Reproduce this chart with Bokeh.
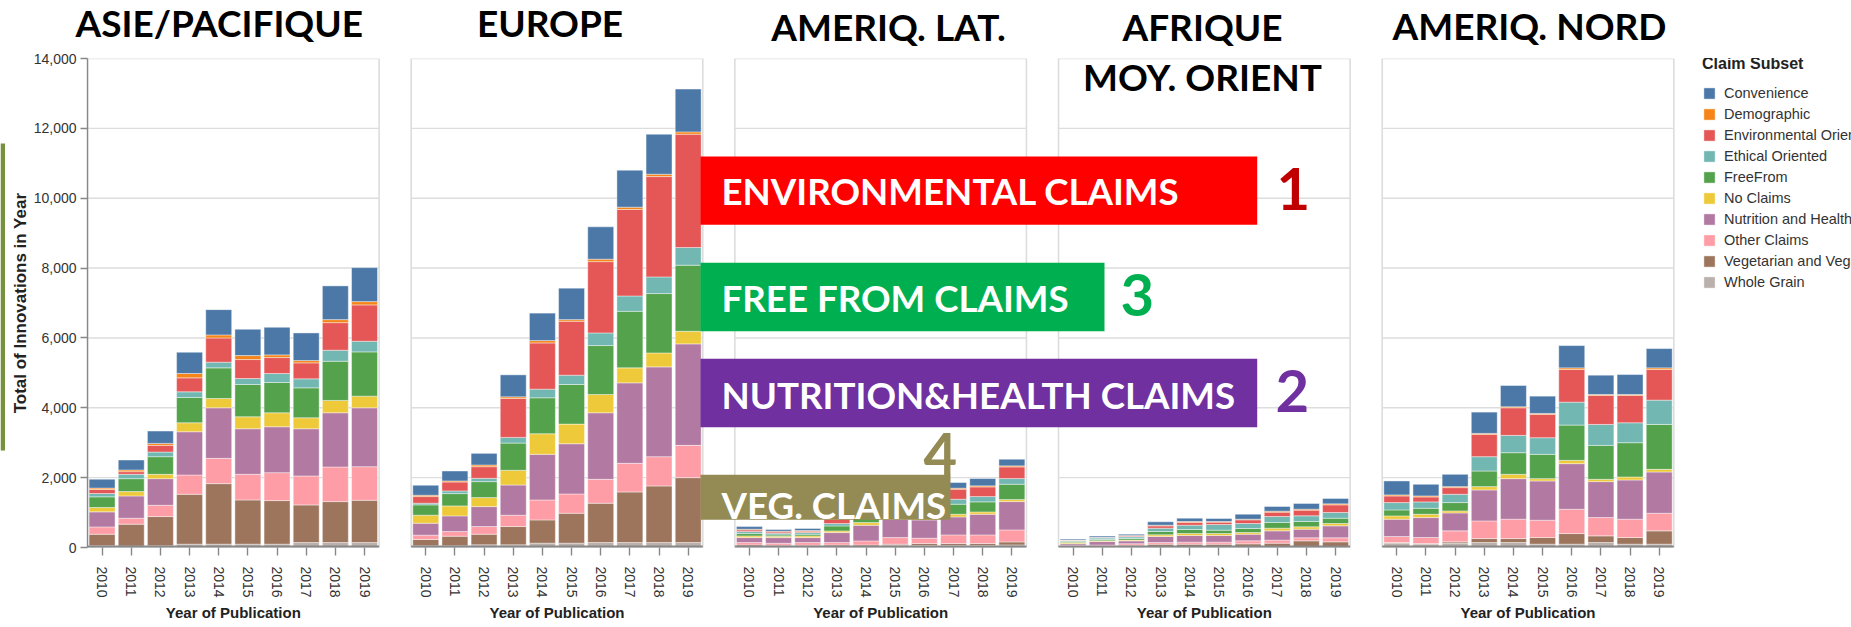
from bokeh.plotting import figure
from bokeh.layouts import column, row
from bokeh.models import (ColumnDataSource, FixedTicker, Label, Legend, LegendItem,
                          Range1d, NumeralTickFormatter)
from bokeh.embed import file_html
from bokeh.resources import INLINE

# ---------------- data ----------------
REGIONS = ["ASIE/PACIFIQUE", "EUROPE", "AMERIQ. LAT.", "AFRIQUE MOY. ORIENT", "AMERIQ. NORD"]
YEARS = ["2010", "2011", "2012", "2013", "2014", "2015", "2016", "2017", "2018", "2019"]
CLAIMS = ["Convenience", "Demographic", "Environmental Oriented", "Ethical Oriented", "FreeFrom",
          "No Claims", "Nutrition and Health", "Other Claims", "Vegetarian and Vegan", "Whole Grain"]
COLORS = ["#4c78a8", "#f58518", "#e45756", "#72b7b2", "#54a24b",
          "#eeca3b", "#b279a2", "#ff9da6", "#9d755d", "#bab0ac"]

# values per claim: 5 regions x 10 years (Asie, Europe, Amer. Lat., Afrique/MO, Amer. Nord)
convenience = [255, 286, 352, 609, 724, 753, 791, 791, 966, 973,
               286, 285, 333, 629, 786, 900, 926, 1059, 1146, 1225,
               76, 49, 59, 150, 160, 170, 175, 162, 209, 190,
               25, 35, 40, 96, 96, 86, 143, 134, 163, 153,
               400, 334, 352, 609, 609, 495, 638, 552, 571, 552]
demographic = [40, 48, 57, 124, 86, 114, 76, 66, 86, 95,
               38, 29, 48, 47, 67, 48, 69, 66, 68, 66,
               19, 20, 19, 29, 29, 29, 29, 29, 30, 29,
               5, 10, 10, 19, 28, 19, 19, 28, 28, 29,
               29, 28, 29, 29, 29, 28, 48, 29, 29, 48]
environmental = [115, 76, 191, 400, 695, 543, 457, 457, 790, 1040,
                 190, 257, 333, 1115, 1324, 1543, 2042, 2476, 2872, 3245,
                 48, 38, 39, 124, 143, 150, 190, 287, 277, 334,
                 10, 15, 25, 67, 77, 67, 105, 125, 162, 219,
                 190, 143, 190, 638, 790, 667, 933, 828, 781, 876]
ethical = [95, 124, 133, 162, 162, 171, 257, 258, 315, 305,
           48, 76, 95, 162, 247, 266, 362, 439, 477, 505,
           57, 47, 47, 67, 96, 96, 95, 143, 152, 163,
           25, 40, 45, 95, 124, 162, 143, 171, 163, 162,
           210, 181, 238, 410, 496, 476, 657, 600, 571, 695]
freefrom = [305, 371, 505, 724, 876, 924, 867, 857, 1123, 1267,
            295, 353, 457, 780, 1029, 1134, 1400, 1619, 1699, 1893,
            67, 38, 48, 143, 191, 219, 288, 287, 287, 439,
            35, 35, 45, 95, 114, 95, 115, 163, 152, 153,
            171, 172, 238, 447, 619, 696, 1010, 972, 981, 1286]
no_claims = [125, 124, 124, 257, 267, 343, 400, 314, 353, 333,
             229, 285, 258, 420, 590, 562, 524, 429, 400, 361,
             48, 39, 48, 48, 76, 67, 67, 76, 67, 57,
             30, 25, 25, 48, 57, 57, 47, 76, 67, 67,
             95, 95, 58, 95, 124, 66, 95, 66, 86, 76]
nutrition = [430, 638, 762, 1238, 1448, 1305, 1314, 1352, 1552, 1686,
             343, 448, 571, 866, 1305, 1438, 1905, 2304, 2571, 2905,
             143, 162, 143, 286, 448, 525, 524, 515, 591, 811,
             45, 100, 80, 172, 191, 191, 191, 267, 248, 343,
             496, 571, 514, 886, 1161, 1124, 1305, 1029, 1123, 1181]
other = [210, 171, 323, 552, 723, 733, 800, 829, 991, 962,
         124, 133, 219, 324, 572, 552, 685, 820, 838, 924,
         67, 57, 76, 67, 115, 191, 153, 248, 248, 344,
         25, 30, 45, 48, 58, 58, 86, 86, 86, 115,
         171, 172, 314, 505, 553, 495, 695, 524, 524, 505]
vegetarian = [330, 627, 836, 1429, 1734, 1267, 1248, 1076, 1171, 1209,
              181, 276, 305, 524, 666, 857, 1124, 1447, 1619, 1857,
              47, 38, 38, 38, 38, 38, 58, 58, 58, 86,
              20, 20, 40, 66, 66, 66, 76, 95, 162, 133,
              19, 19, 38, 114, 114, 191, 305, 190, 191, 381]
whole_grain = [50, 40, 50, 95, 95, 95, 95, 143, 143, 143,
               48, 48, 76, 76, 124, 124, 143, 143, 143, 143,
               27, 27, 27, 36, 36, 55, 55, 55, 55, 74,
               20, 20, 25, 29, 29, 29, 29, 29, 29, 29,
               124, 95, 124, 143, 143, 95, 95, 143, 95, 95]

SERIES = [convenience, demographic, environmental, ethical, freefrom,
          no_claims, nutrition, other, vegetarian, whole_grain]

# ---------------- layout ----------------
W, H = 1851, 627
TOP_H, BOT_H, SIDE_W = 50, 25, 5
MAIN_W, MAIN_H = W - SIDE_W, H - TOP_H - BOT_H
LEFT, TOP, FRAME_H = 82, 8, 489
FRAME_LEFT = SIDE_W + LEFT             # page x of frame left
FRAME_TOP = TOP_H + TOP                # page y of frame top
FRAME_BOTTOM = FRAME_TOP + FRAME_H     # page y of frame bottom
PXU = 29.16            # pixels per year slot
STRIDE = 11.1          # panel stride in year slots
Y_MAX = 14000
PXY = FRAME_H / Y_MAX


def X(page_x):
    return (page_x - FRAME_LEFT) / PXU


def Y(page_y):
    return (FRAME_BOTTOM - page_y) / PXY


def mid(cap_center, size):
    # anchor for text_baseline="middle" so that the capitals are centred on cap_center
    return cap_center - 0.042 * size


def strip(w, h, y_top, y_bottom):
    return figure(width=w, height=h, x_range=Range1d(0, w), y_range=Range1d(y_bottom, y_top),
                  output_backend="svg", toolbar_location=None, title=None,
                  x_axis_type=None, y_axis_type=None, min_border=0,
                  min_border_left=0, min_border_right=0, min_border_top=0, min_border_bottom=0,
                  outline_line_color=None)


xs = [i * STRIDE + j + 0.5 for i in range(len(REGIONS)) for j in range(len(YEARS))]
labels = {x: YEARS[k % 10] for k, x in enumerate(xs)}

data = {"x": xs}
for c, s in zip(CLAIMS, SERIES):
    data[c] = s
src = ColumnDataSource(data)

p = figure(width=MAIN_W, height=MAIN_H, x_range=Range1d(0, (MAIN_W - LEFT) / PXU),
           y_range=Range1d(0, Y_MAX), output_backend="svg", toolbar_location=None, title=None,
           min_border_left=LEFT, min_border_right=0, min_border_top=TOP,
           min_border_bottom=MAIN_H - TOP - FRAME_H,
           outline_line_color=None, background_fill_color="white", border_fill_color="white")
p.xgrid.visible = False
p.ygrid.visible = False

# panel grids and frames
gx0, gx1, gy = [], [], []
for i in range(len(REGIONS)):
    for v in range(2000, Y_MAX, 2000):
        gx0.append(i * STRIDE)
        gx1.append(i * STRIDE + 10)
        gy.append(v)
p.segment(x0=gx0, y0=gy, x1=gx1, y1=gy, line_color="#dddddd", line_width=1.4)
p.quad(left=[i * STRIDE for i in range(5)], right=[i * STRIDE + 10 for i in range(5)],
       bottom=[0] * 5, top=[Y_MAX] * 5, fill_color=None, line_color="#dddddd", line_width=1.6)

# stacked bars (bottom -> top)
stack_order = CLAIMS[::-1]
stack_colors = COLORS[::-1]
rends = p.vbar_stack(stack_order, x="x", width=0.89, color=stack_colors, source=src,
                     line_color="white", line_width=0.6, line_alpha=0.7)
rmap = dict(zip(stack_order, rends))

# bottom domain lines per panel
p.segment(x0=[i * STRIDE for i in range(5)], y0=[0] * 5,
          x1=[i * STRIDE + 10 for i in range(5)], y1=[0] * 5,
          line_color="#888888", line_width=4)

# axes
xa = p.xaxis[0]
xa.ticker = FixedTicker(ticks=xs, minor_ticks=[])
xa.major_label_overrides = labels
xa.major_label_orientation = "vertical"
xa.axis_line_color = None
xa.major_tick_line_color = "#888888"
xa.major_tick_line_width = 1.4
xa.major_tick_out = 8
xa.major_tick_in = 0
xa.minor_tick_line_color = None
xa.major_label_standoff = 11
xa.major_label_text_font = "Liberation Sans"
xa.major_label_text_font_size = "14px"
xa.major_label_text_color = "#333333"

ya = p.yaxis[0]
ya.ticker = FixedTicker(ticks=list(range(0, Y_MAX + 1, 2000)), minor_ticks=[])
ya.formatter = NumeralTickFormatter(format="0,0")
ya.axis_line_color = "#888888"
ya.axis_line_width = 1.4
ya.major_tick_line_color = "#888888"
ya.major_tick_line_width = 1.4
ya.major_tick_out = 7
ya.major_tick_in = 0
ya.minor_tick_line_color = None
ya.major_label_standoff = 4
ya.major_label_text_font = "Liberation Sans"
ya.major_label_text_font_size = "14px"
ya.major_label_text_color = "#333333"
ya.axis_label = "Total of Innovations in Year"
ya.axis_label_text_font = "Liberation Sans"
ya.axis_label_text_font_style = "bold"
ya.axis_label_text_font_size = "17px"
ya.axis_label_text_color = "#222222"
ya.axis_label_standoff = 1

# "MOY. ORIENT" (second line of the Afrique title, inside the frame)
p.add_layout(Label(x=X(1202), y=Y(mid(77.5, 37)), text="MOY. ORIENT", text_align="center",
                   text_baseline="middle", text_font="Lato", text_font_style="bold",
                   text_font_size="37px", text_color="black"))

# annotation boxes
boxes = ColumnDataSource(dict(
    left=[X(700)] * 4,
    right=[X(1256.7), X(1104), X(1256.7), X(950)],
    top=[Y(156), Y(262.3), Y(358.3), Y(474.3)],
    bottom=[Y(224.3), Y(330.7), Y(426.7), Y(519.3)],
    color=["#ff0000", "#00b050", "#7030a0", "#948a54"],
))
p.quad(left="left", right="right", top="top", bottom="bottom", fill_color="color",
       line_color=None, source=boxes)

ann_texts = [("ENVIRONMENTAL CLAIMS", 191.7), ("FREE FROM CLAIMS", 299),
             ("NUTRITION&HEALTH CLAIMS", 396), ("VEG. CLAIMS", 506)]
for t, cc in ann_texts:
    p.add_layout(Label(x=X(721), y=Y(mid(cc, 36.7)), text=t, text_align="left",
                       text_baseline="middle", text_font="Lato", text_font_style="bold",
                       text_font_size="36.7px", text_color="white"))

nums = [("1", 1276, 190.9, "#c00000"), ("3", 1120, 296.7, "#00b050"),
        ("2", 1275, 393.4, "#7030a0"), ("4", 923, 455.9, "#948a54")]
for t, lx, cc, col in nums:
    p.add_layout(Label(x=X(lx), y=Y(mid(cc, 58)), text=t, text_align="left",
                       text_baseline="middle", text_font="Lato", text_font_style="bold",
                       text_font_size="58px", text_color=col))

# legend
legend = Legend(items=[LegendItem(label=c, renderers=[rmap[c]]) for c in CLAIMS],
                location=(1615, 257), title="Claim Subset",
                title_text_font="Liberation Sans", title_text_font_style="bold",
                title_text_font_size="16px", title_text_color="#222222", title_standoff=12,
                label_text_font="Liberation Sans", label_text_font_size="14.5px",
                label_text_color="#333333", glyph_width=14, glyph_height=14,
                label_height=14, label_standoff=8, spacing=5, padding=0, margin=0,
                border_line_color=None, background_fill_alpha=0)
p.add_layout(legend)

# ---- top strip: region titles (page coordinates) ----
top = strip(W, TOP_H, 0, TOP_H)
titles = [("ASIE/PACIFIQUE", 218.8, 23.3), ("EUROPE", 549.5, 23.3), ("AMERIQ. LAT.", 888, 27.2),
          ("AFRIQUE", 1202, 27.2), ("AMERIQ. NORD", 1529, 26.3)]
for t, cx, cc in titles:
    top.add_layout(Label(x=cx, y=mid(cc, 37), text=t, text_align="center",
                         text_baseline="middle", text_font="Lato", text_font_style="bold",
                         text_font_size="37px", text_color="black"))

# ---- left strip: green marker bar (its frame is aligned with the main frame) ----
side = strip(SIDE_W, MAIN_H, FRAME_TOP, FRAME_BOTTOM)
side.quad(left=[0], right=[4.5], top=[143], bottom=[450], fill_color="#76923c", line_color=None)

# ---- bottom strip: x-axis titles ----
bot = strip(W, BOT_H, H - BOT_H, H)
for i in range(len(REGIONS)):
    bot.add_layout(Label(x=FRAME_LEFT + (i * STRIDE + 5) * PXU, y=612, text="Year of Publication",
                         text_align="center", text_baseline="middle",
                         text_font="Liberation Sans", text_font_style="bold",
                         text_font_size="15px", text_color="#222222"))

layout = column(top, row(side, p, spacing=0), bot, spacing=0)
open("out.html", "w").write(file_html(layout, INLINE))
